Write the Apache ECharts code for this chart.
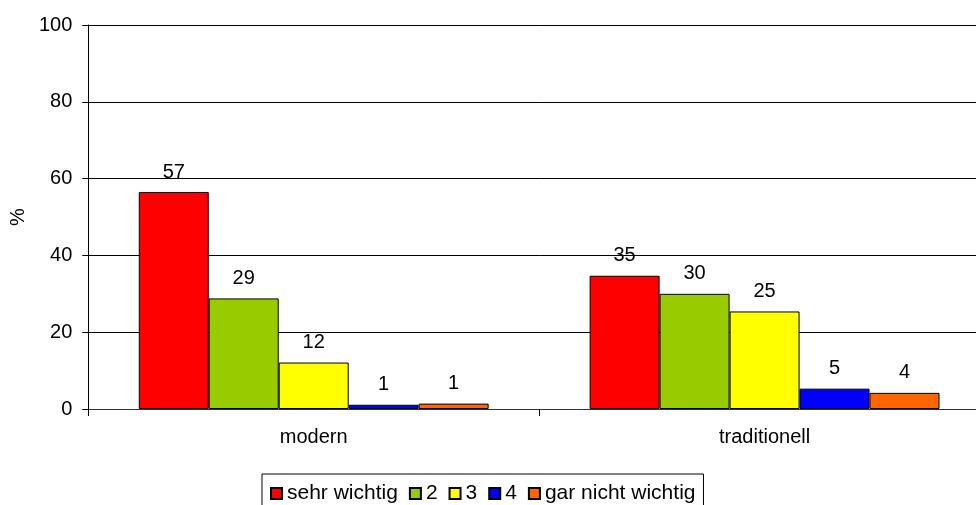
<!DOCTYPE html>
<html>
<head>
<meta charset="utf-8">
<script src="https://cdn.jsdelivr.net/npm/echarts@6/dist/echarts.min.js"></script>
<style>
  html, body { margin: 0; padding: 0; background: #fff; overflow: hidden; }
  /* Plotfläche ragt rechts etwas über den Rand hinaus, wie im Original */
  #chart { width: 990px; height: 505px; }
</style>
</head>
<body>
<div id="chart"></div>
<script>
// Kategorien und Werte (in %)
var categories = ['modern', 'traditionell'];
var seriesNames = ['sehr wichtig', '2', '3', '4', 'gar nicht wichtig'];
var sehrWichtig = [56.5, 34.7];
var wert2 = [28.8, 30.0];
var wert3 = [12.1, 25.4];
var wert4 = [1.1, 5.3];
var garNichtWichtig = [1.4, 4.2];
var colors = ['#FF0000', '#99CC00', '#FFFF00', '#0000FF', '#FF6600'];

var allData = [sehrWichtig, wert2, wert3, wert4, garNichtWichtig];
var font = 'Liberation Sans, Arial, sans-serif';
var fs = 20;

var series = [];
for (var i = 0; i < allData.length; i++) {
    series.push({
        name: seriesNames[i],
        type: 'bar',
        data: allData[i],
        barGap: '0%',
        barCategoryGap: '22.4%',
        itemStyle: { color: colors[i], borderColor: '#000', borderWidth: 1 },
        label: {
            show: true,
            position: 'top',
            distance: 10,
            color: '#000',
            fontSize: fs,
            fontFamily: font,
            formatter: function (p) { return Math.round(p.value); }
        }
    });
}

var myChart = echarts.init(document.getElementById('chart'));
var option = {
    animation: false,
    color: colors,
    grid: { left: 87, top: 25, right: 0, bottom: 96, containLabel: false },
    legend: {
        data: seriesNames,
        left: 262,
        top: 474,
        itemWidth: 11,
        itemHeight: 11,
        itemGap: 11,
        icon: 'rect',
        padding: [9, 8, 8, 8],
        borderColor: '#000',
        borderWidth: 1,
        textStyle: { fontSize: 21, fontFamily: font, color: '#000' }
    },
    xAxis: {
        type: 'category',
        data: categories,
        axisLine: { lineStyle: { color: '#333', width: 1 } },
        axisTick: { show: true, alignWithLabel: false, length: 7, lineStyle: { color: '#000' } },
        axisLabel: { fontSize: fs, fontFamily: font, color: '#000', margin: 18 }
    },
    yAxis: {
        type: 'value',
        min: 0,
        max: 100,
        interval: 20,
        name: '%',
        nameLocation: 'middle',
        nameGap: 60,
        nameRotate: 90,
        nameTextStyle: { fontSize: fs, fontFamily: font, color: '#000' },
        axisLine: { show: true, lineStyle: { color: '#000', width: 1 } },
        axisTick: { show: true, length: 6, inside: false, lineStyle: { color: '#000' } },
        axisLabel: { fontSize: fs, fontFamily: font, color: '#000', margin: 16 },
        splitLine: { show: true, lineStyle: { color: '#000', width: 1 } }
    },
    series: series
};
myChart.setOption(option);
</script>
</body>
</html>
